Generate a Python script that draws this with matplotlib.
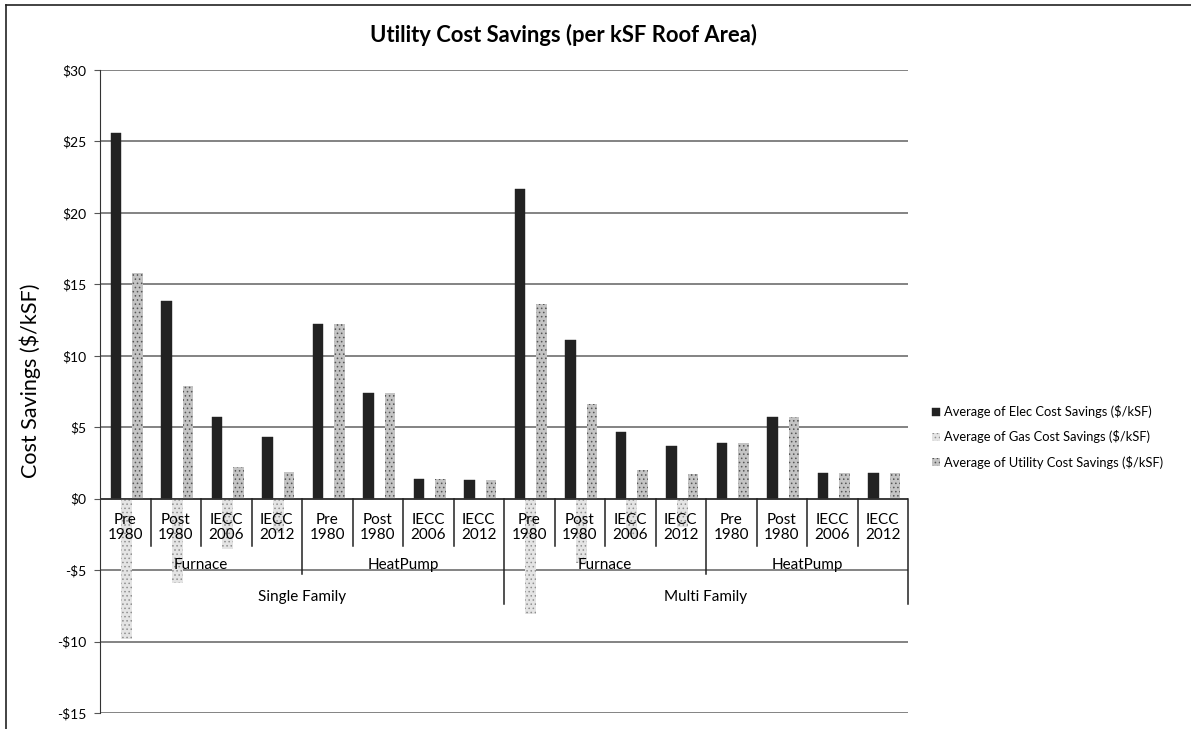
import numpy as np
import matplotlib.pyplot as plt
from matplotlib.lines import Line2D

plt.rcParams['font.family'] = ['Lato', 'DejaVu Sans']
plt.rcParams['hatch.linewidth'] = 0.6

# Data ($ per kSF roof area)
periods = ['Pre\n1980', 'Post\n1980', 'IECC\n2006', 'IECC\n2012']
systems = ['Furnace', 'HeatPump']
buildings = ['Single Family', 'Multi Family']

elec = [25.6, 13.8, 5.7, 4.3, 12.2, 7.4, 1.4, 1.3,
        21.7, 11.1, 4.7, 3.7, 3.9, 5.7, 1.8, 1.8]
gas = [-9.8, -5.9, -3.5, -2.4, 0, 0, 0, 0,
       -8.1, -4.5, -2.7, -2.0, 0, 0, 0, 0]
utility = [15.8, 7.9, 2.2, 1.9, 12.2, 7.4, 1.4, 1.3,
           13.6, 6.6, 2.0, 1.7, 3.9, 5.7, 1.8, 1.8]

series_names = ['Average of Elec Cost Savings ($/kSF)',
                'Average of Gas Cost Savings ($/kSF)',
                'Average of Utility Cost Savings ($/kSF)']

fig = plt.figure(figsize=(11.91, 7.29), dpi=100)
ax = fig.add_axes([100/1191, 1 - 713/729, 808/1191, 643/729])

x = np.arange(len(elec))
w = 0.21
b1 = ax.bar(x - w + 0.03, elec, w, color='#222222', edgecolor='#222222', linewidth=0.3, zorder=3)
b2 = ax.bar(x + 0.03, gas, w, color='#e4e4e4', edgecolor='#8f8f8f', hatch='....', linewidth=0, zorder=3)
b3 = ax.bar(x + w + 0.03, utility, w, color='#c4c4c4', edgecolor='#555555', hatch='....', linewidth=0, zorder=3)

ax.set_xlim(-0.5, len(elec) - 0.5)
ax.set_ylim(-15, 30)
ax.set_yticks(np.arange(-15, 31, 5))
ax.set_yticklabels([f'${v}' if v >= 0 else f'-${-v}' for v in range(-15, 31, 5)], fontsize=10)
ax.yaxis.grid(True, color='#7a7a7a', linewidth=1.3, zorder=0)
ax.set_axisbelow(True)
ax.set_xticks([])
for s in ['top', 'right', 'bottom']:
    ax.spines[s].set_visible(False)
ax.spines['left'].set_color('#333333')
ax.tick_params(axis='y', length=4, color='#555555', pad=6)
ax.axhline(0, color='#333333', linewidth=1.2, zorder=4)

# Multi-level category labels under the zero line
n = len(elec)
for i in range(n):
    ax.text(i, -2.0, periods[i % 4], ha='center', va='center', fontsize=11, linespacing=1.1, zorder=5)
for i in range(1, n):
    if i % 8 == 0:
        depth = -7.35
    elif i % 4 == 0:
        depth = -5.25
    else:
        depth = -3.3
    ax.plot([i - 0.5, i - 0.5], [0, depth], color='#222222', linewidth=1.1, zorder=5)
ax.plot([n - 0.5, n - 0.5], [0, -7.35], color='#222222', linewidth=1.1, zorder=5, clip_on=False)
for j in range(4):
    ax.text(j * 4 + 1.5, -4.65, systems[j % 2], ha='center', va='center', fontsize=11, zorder=5)
for k in range(2):
    ax.text(k * 8 + 3.5, -6.85, buildings[k], ha='center', va='center', fontsize=11, zorder=5)

ax.set_ylabel('Cost Savings ($/kSF)', fontsize=15.5)
ax.yaxis.set_label_coords(-0.073, 0.516)

fig.text(564/1191, 1 - 35/729, 'Utility Cost Savings (per kSF Roof Area)',
         ha='center', va='center', fontsize=15.8, fontweight='bold')

fig.legend([b1, b2, b3], series_names, loc='upper left',
           bbox_to_anchor=(927/1191, 1 - 400/729), frameon=False, fontsize=9.3,
           handlelength=0.6, handleheight=0.6, handletextpad=0.3, labelspacing=0.95,
           borderaxespad=0)

# chart frame (left and top edges visible in the scan)
fig.add_artist(Line2D([6/1191, 6/1191], [0, 1 - 5/729], color='#222222', linewidth=1.2))
fig.add_artist(Line2D([6/1191, 1], [1 - 5/729, 1 - 5/729], color='#222222', linewidth=1.2))

plt.savefig('out.png', dpi=100)
